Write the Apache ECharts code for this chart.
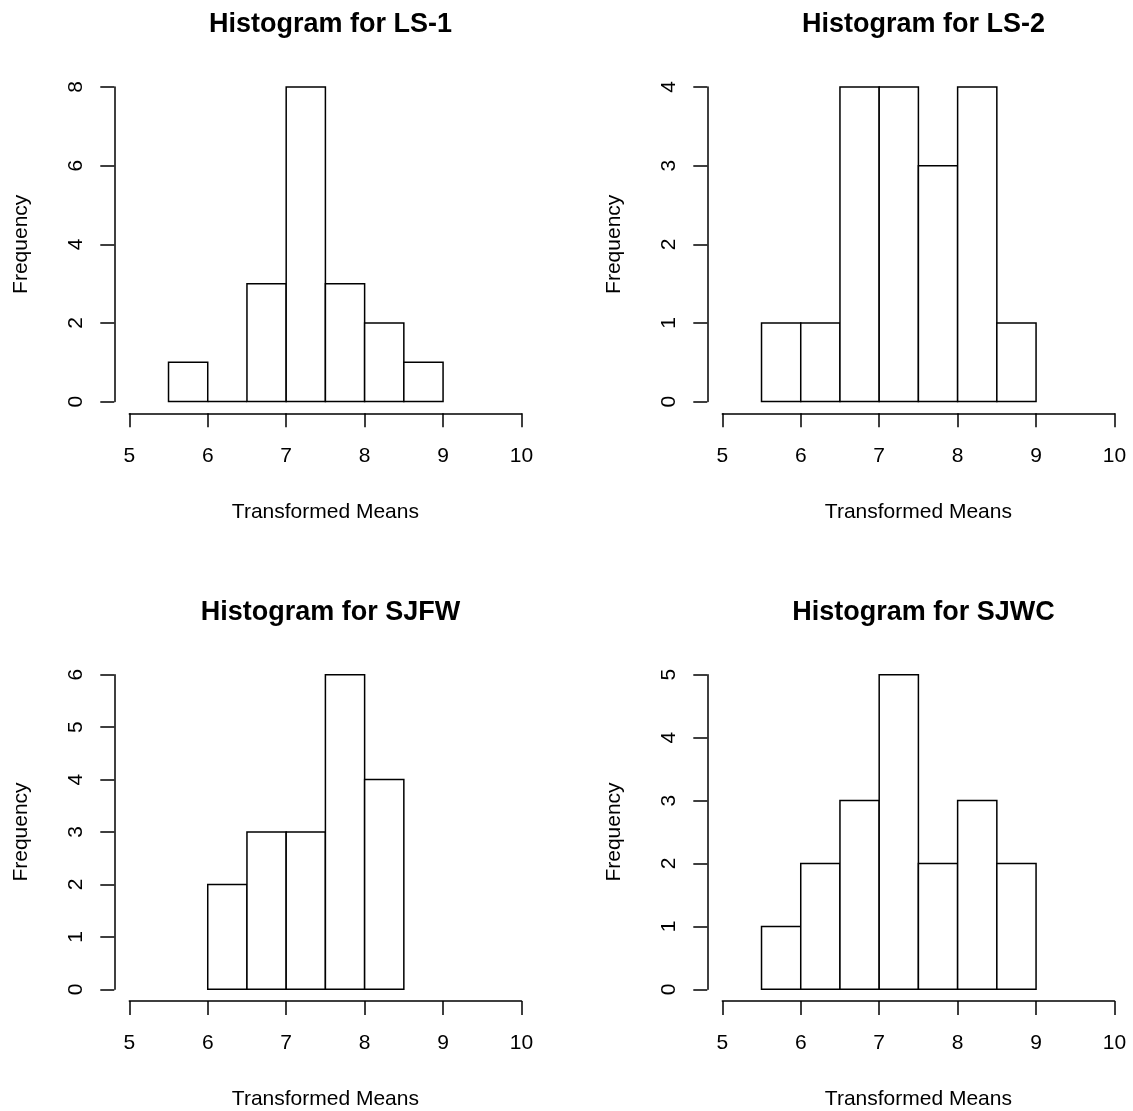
<!DOCTYPE html>
<html>
<head>
<meta charset="utf-8">
<script src="https://cdn.jsdelivr.net/npm/echarts@6/dist/echarts.min.js"></script>
<style>html,body{margin:0;padding:0;background:#fff}#c{width:1133px;height:1111px}</style>
</head>
<body>
<div id="c"></div>
<script>
// ---- data ----
const panelTitles = ['Histogram for LS-1', 'Histogram for LS-2', 'Histogram for SJFW', 'Histogram for SJWC'];
const binWidth = 0.5;
const ls1Starts = [5.5, 6.0, 6.5, 7.0, 7.5, 8.0, 8.5];
const ls1Counts = [1, 0, 3, 8, 3, 2, 1];
const ls2Starts = [5.5, 6.0, 6.5, 7.0, 7.5, 8.0, 8.5];
const ls2Counts = [1, 1, 4, 4, 3, 4, 1];
const sjfwStarts = [6.0, 6.5, 7.0, 7.5, 8.0];
const sjfwCounts = [2, 3, 3, 6, 4];
const sjwcStarts = [5.5, 6.0, 6.5, 7.0, 7.5, 8.0, 8.5];
const sjwcCounts = [1, 2, 3, 5, 2, 3, 2];
const xTicks = [5, 6, 7, 8, 9, 10];
const yMax = [8, 4, 6, 5];
const yInterval = [2, 1, 1, 1];
const xName = 'Transformed Means';
const yName = 'Frequency';

const starts = [ls1Starts, ls2Starts, sjfwStarts, sjwcStarts];
const counts = [ls1Counts, ls2Counts, sjfwCounts, sjwcCounts];

// ---- layout ----
const lefts = [129.3, 722.3, 129.3, 722.3];
const tops = [87, 87, 674.7, 674.7];
const W = 392.2, H = 314.6;
const font = 'Liberation Sans, Arial, sans-serif';
const tickSize = 21;

const grids = [], xAxes = [], yAxes = [], series = [], titles = [];
for (let i = 0; i < 4; i++) {
  grids.push({ left: lefts[i], top: tops[i], width: W, height: H, containLabel: false });
  titles.push({
    text: panelTitles[i], left: lefts[i] + W / 2, top: tops[i] - 81, textAlign: 'center',
    textStyle: { fontFamily: font, fontSize: 27, fontWeight: 'bold', color: '#000' }
  });
  xAxes.push({
    gridIndex: i, type: 'value', min: xTicks[0], max: xTicks[xTicks.length - 1], interval: 1,
    position: 'bottom', offset: 11.7,
    axisLine: { show: true, onZero: false, lineStyle: { color: '#000', width: 1.5 } },
    axisTick: { show: true, length: 14, lineStyle: { color: '#000', width: 1.5 } },
    axisLabel: { margin: 32, fontFamily: font, fontSize: tickSize, color: '#000' },
    splitLine: { show: false },
    name: xName, nameLocation: 'middle', nameGap: 88,
    nameTextStyle: { fontFamily: font, fontSize: tickSize, color: '#000' }
  });
  yAxes.push({
    gridIndex: i, type: 'value', min: 0, max: yMax[i], interval: yInterval[i],
    position: 'left', offset: 15,
    axisLine: { show: true, onZero: false, lineStyle: { color: '#000', width: 1.5 } },
    axisTick: { show: true, length: 14, lineStyle: { color: '#000', width: 1.5 } },
    axisLabel: { rotate: 90, margin: 28, fontFamily: font, fontSize: tickSize, color: '#000' },
    splitLine: { show: false },
    name: yName, nameLocation: 'middle', nameGap: 83, nameRotate: 90,
    nameTextStyle: { fontFamily: font, fontSize: tickSize, color: '#000' }
  });
  const data = starts[i].map((s, k) => [s, s + binWidth, counts[i][k]]);
  series.push({
    type: 'custom', xAxisIndex: i, yAxisIndex: i, data: data,
    encode: { x: [0, 1], y: 2 },
    renderItem: function (params, api) {
      const p0 = api.coord([api.value(0), 0]);
      const p1 = api.coord([api.value(1), api.value(2)]);
      return {
        type: 'rect',
        shape: { x: p0[0], y: p1[1], width: p1[0] - p0[0], height: p0[1] - p1[1] },
        style: { fill: '#fff', stroke: '#000', lineWidth: 1.5 }
      };
    },
    silent: true, animation: false
  });
}

const chart = echarts.init(document.getElementById('c'), null, { renderer: 'canvas' });
chart.setOption({
  backgroundColor: '#fff', animation: false,
  title: titles, grid: grids, xAxis: xAxes, yAxis: yAxes, series: series
});
</script>
</body>
</html>
